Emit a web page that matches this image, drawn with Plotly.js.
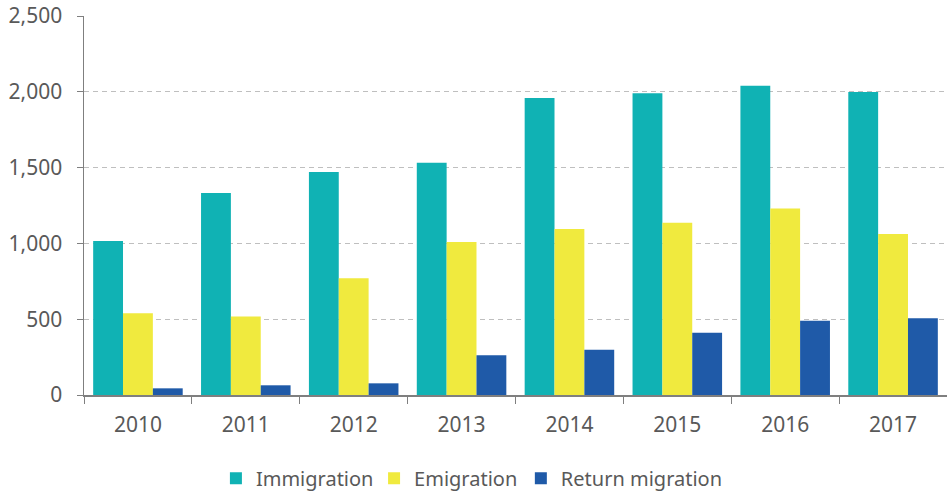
<!DOCTYPE html>
<html>
<head>
<meta charset="utf-8">
<script src="https://cdn.plot.ly/plotly-3.0.1.min.js"></script>
<style>html,body{margin:0;padding:0;background:#fff;}#chart{width:947px;height:494px;}</style>
</head>
<body>
<div id="chart"></div>
<script>
const years = ['2010','2011','2012','2013','2014','2015','2016','2017'];
const immigration = [1016, 1333, 1471, 1532, 1959, 1990, 2040, 1998];
const emigration = [539, 517, 770, 1009, 1095, 1137, 1231, 1062];
const returnMigration = [44, 64, 77, 262, 299, 411, 490, 506];
const seriesNames = ['Immigration', 'Emigration', 'Return migration'];
const colors = ['#10b2b4', '#f0ea3e', '#1f5aa8'];
const legendIds = ['legend', 'legend2', 'legend3'];
const legendX = [0.228, 0.395, 0.550];

const traces = [immigration, emigration, returnMigration].map((vals, i) => ({
  type: 'bar', x: years, y: vals, name: seriesNames[i],
  marker: {color: colors[i], line: {width: 0}},
  legend: legendIds[i],
  hoverinfo: 'x+y'
}));

const layout = {
  width: 947, height: 494,
  margin: {l: 84, r: 0, t: 16, b: 99, autoexpand: false},
  paper_bgcolor: '#fff', plot_bgcolor: '#fff',
  font: {family: 'Noto Sans, Open Sans, sans-serif', size: 21, color: '#595959'},
  barmode: 'group', bargap: 0.17, bargroupgap: 0,
  xaxis: {
    type: 'category', showline: true, linecolor: '#7f7f7f', linewidth: 1.5,
    ticks: 'outside', tickson: 'boundaries', ticklen: 7, tickcolor: '#7f7f7f',
    ticklabelstandoff: 10, automargin: false,
    showgrid: false, zeroline: false, tickfont: {size: 21, color: '#595959'}
  },
  yaxis: {
    range: [0, 2500], dtick: 500, tickformat: ',d',
    showline: true, linecolor: '#7f7f7f', linewidth: 1.5,
    ticks: 'outside', ticklen: 6, tickcolor: '#7f7f7f', ticklabelstandoff: 10,
    automargin: false,
    showgrid: true, gridcolor: '#bfbfbf', griddash: '5px,4px', gridwidth: 1,
    zeroline: false, tickfont: {size: 21, color: '#595959'}
  },
  showlegend: true
};
legendIds.forEach((id, i) => {
  layout[id] = {
    orientation: 'h', xref: 'container', yref: 'container',
    x: legendX[i], xanchor: 'left', y: 0.032, yanchor: 'middle',
    bgcolor: 'rgba(0,0,0,0)', borderwidth: 0,
    font: {size: 20, color: '#595959'}, itemwidth: 30
  };
});

Plotly.newPlot('chart', traces, layout, {displayModeBar: false, staticPlot: true});
</script>
</body>
</html>
